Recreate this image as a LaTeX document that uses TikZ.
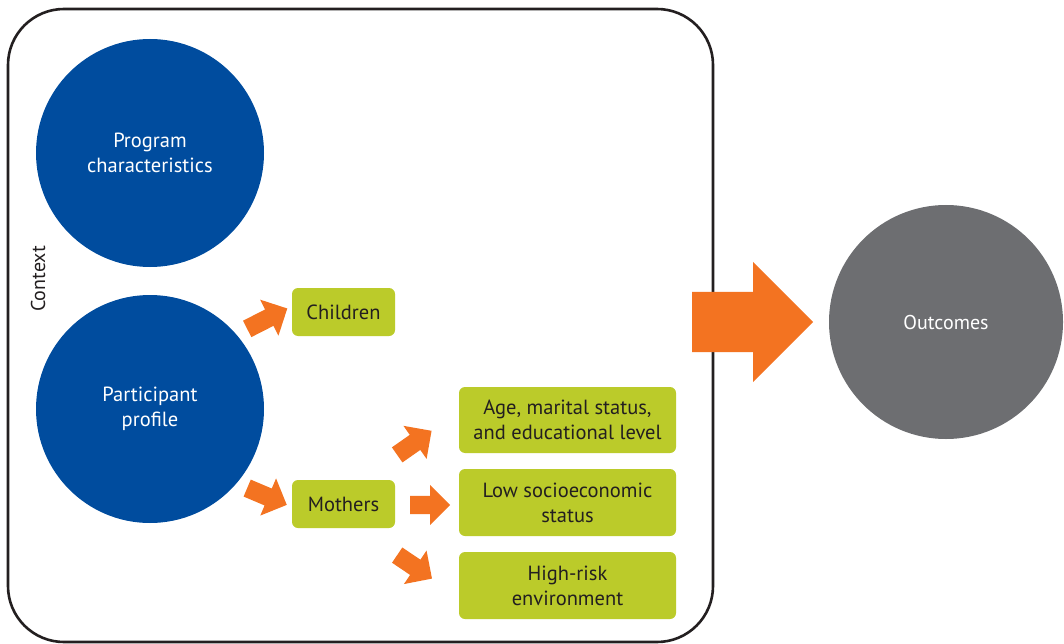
\documentclass[tikz,border=0pt]{standalone}
\usepackage{fontspec}
\setmainfont{PT Sans}
\usetikzlibrary{shapes.arrows}
\definecolor{frameink}{HTML}{231F20}
\definecolor{deepblue}{HTML}{004C9E}
\definecolor{slategrey}{HTML}{6D6E71}
\definecolor{lime}{HTML}{BBCB2A}
\definecolor{tangerine}{HTML}{F37321}
\begin{document}
\begin{tikzpicture}[x=1pt,y=-1pt,
  bigdisc/.style={circle,fill=deepblue,text=white,align=center,font=\fontsize{20.5}{25}\selectfont,inner sep=0pt},
  factor/.style={rounded corners=6pt,fill=lime,text=frameink,align=center,font=\fontsize{20.5}{25}\selectfont,inner sep=0pt},
  blockarrow/.style={single arrow,anchor=tail,fill=tangerine,draw=none,inner xsep=0pt,inner ysep=9pt,
    single arrow head extend=11pt,single arrow tip angle=90,minimum height=43pt},
]
\useasboundingbox (0,0) rectangle (1064,644);
% context frame
\draw[frameink,line width=2.6pt,rounded corners=56pt] (8,9) rectangle (713,642);
\node[rotate=90,font=\fontsize{20}{22}\selectfont,text=frameink] (ctx) at (38,279) {Context};
% main circles
\node[bigdisc,minimum size=228pt] (prog) at (150,153) {Program\\characteristics};
\node[bigdisc,minimum size=228pt] (part) at (150,409) {Participant\\profile};
\node[circle,fill=slategrey,text=white,minimum size=234pt,font=\fontsize{20}{22}\selectfont] (out) at (946,322) {Outcomes};
% factor boxes
\node[factor,minimum width=103pt,minimum height=48pt] (kids) at (343.5,312) {Children};
\node[factor,minimum width=103pt,minimum height=48pt] (moms) at (343.5,504) {Mothers};
\node[factor,minimum width=217pt,minimum height=66pt] (age) at (567.5,420) {Age, marital status,\\and educational level};
\node[factor,minimum width=217pt,minimum height=67pt] (ses) at (567.5,502.5) {Low socioeconomic\\status};
\node[factor,minimum width=217pt,minimum height=67pt] (risk) at (567.5,585.5) {High-risk\\environment};
% block arrows
\node[blockarrow,rotate=27,minimum height=45pt] (a1) at (247,329) {};
\node[blockarrow,rotate=-23] (a2) at (247,488) {};
\node[blockarrow,rotate=35,minimum height=42pt] (a3) at (397,455) {};
\node[blockarrow,minimum height=40pt] (a4) at (410,505) {};
\node[blockarrow,rotate=-34,minimum height=42pt] (a5) at (397,555) {};
\node[single arrow,anchor=tail,fill=tangerine,inner xsep=0pt,inner ysep=30pt,single arrow head extend=30pt,
  single arrow tip angle=90,minimum height=121pt] (big) at (692,322) {};
\end{tikzpicture}
\end{document}
